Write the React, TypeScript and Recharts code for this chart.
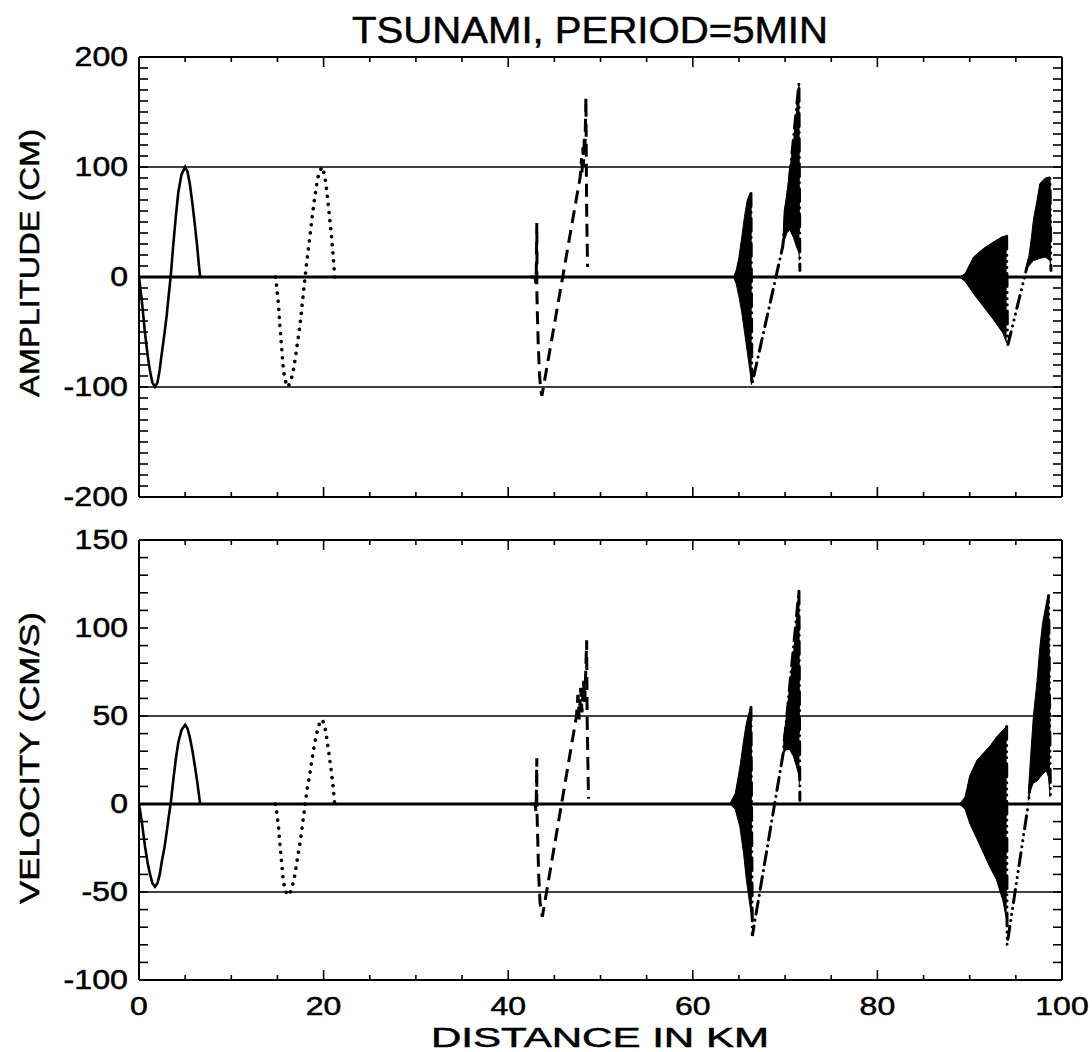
import React from 'react';
import { ComposedChart, Line, Area, XAxis, YAxis, ReferenceLine } from 'recharts';

const FONT = '"Liberation Sans", Arial, Helvetica, sans-serif';

// ---- axis ticks / labels ----
const xMajorTicks = [0, 20, 40, 60, 80, 100];
const xMinorTicks = [0, 5, 10, 15, 20, 25, 30, 35, 40, 45, 50, 55, 60, 65, 70, 75, 80, 85, 90, 95, 100];
const ampTicks = [-200, -190, -180, -170, -160, -150, -140, -130, -120, -110, -100, -90, -80, -70, -60, -50, -40, -30, -20, -10, 0,
  10, 20, 30, 40, 50, 60, 70, 80, 90, 100, 110, 120, 130, 140, 150, 160, 170, 180, 190, 200];
const ampLabels = [-200, -100, 0, 100, 200];
const velTicks = [-100, -90, -80, -70, -60, -50, -40, -30, -20, -10, 0, 10, 20, 30, 40, 50, 60, 70, 80, 90, 100,
  110, 120, 130, 140, 150];
const velLabels = [-100, -50, 0, 50, 100, 150];
const ampRefLines = [-100, 100];
const velRefLines = [-50, 50];

// ---- amplitude (cm) snapshots: [km, value] ----
const ampSolid = [[0, 0], [0.3, -21], [0.65, -51], [0.95, -72], [1.2, -86], [1.45, -96], [1.73, -100], [2.0, -96], [2.25, -84],
  [2.46, -70], [2.75, -52], [3.0, -35], [3.2, -18], [3.45, 2], [3.72, 30], [4.0, 56], [4.26, 77], [4.6, 93], [5.0, 100],
  [5.25, 96], [5.5, 85], [5.8, 66], [6.07, 46], [6.3, 28], [6.5, 10], [6.62, 0]];
const ampDotted = [[14.8, 0], [15.1, -24], [15.3, -48], [15.45, -64], [15.6, -80], [15.8, -93], [16.1, -100], [16.4, -96],
  [16.65, -88], [16.9, -76], [17.1, -64], [17.45, -43], [17.7, -23], [18.0, 0], [18.2, 16], [18.45, 32], [18.7, 50],
  [18.95, 67], [19.25, 84], [19.5, 95], [19.85, 100], [20.1, 93], [20.35, 78], [20.6, 58], [20.85, 38], [21.05, 18], [21.2, 0]];
const ampDashed = [[42.4, 0], [42.9, 0], [43.0, -6], [43.05, 8], [43.1, 49], [43.12, 20], [43.1, -10], [43.15, -30],
  [43.25, -60], [43.4, -90], [43.55, -104], [43.65, -108], [47.8, 91], [47.95, 108], [48.0, 95], [48.1, 118],
  [48.15, 100], [48.25, 128], [48.3, 110], [48.42, 163], [48.45, 120], [48.5, 60], [48.6, 9]];
const ampDashDot = [[66.3, 76], [66.4, -98], [69.75, 28], [71.5, 176], [71.6, 6]];
const ampDashDotBurst1 = [[64.4, 0, 0], [64.7, -6, 6], [65.0, -18, 18], [65.3, -32, 36], [65.6, -50, 55], [65.9, -68, 70],
  [66.2, -86, 76], [66.38, -98, 76]];
const ampDashDotBurst2 = [[69.75, 28, 30], [69.9, 33, 60], [70.2, 40, 76], [70.5, 43, 97], [70.9, 36, 121], [71.25, 27, 152],
  [71.5, 22, 176], [71.55, 15, 40]];
const ampDashDot3 = [[94.0, 37], [94.1, -63], [96.2, 9], [98.7, 91], [98.8, 6]];
const ampDashDot3Burst1 = [[88.9, 0, 0], [89.5, -4, 3], [90.4, -15, 18], [91.5, -27, 26], [92.6, -39, 32], [93.6, -51, 37],
  [94.0, -60, 37]];
const ampDashDot3Burst2 = [[96.2, 9, 9], [96.4, 10, 18], [96.7, 13, 37], [96.9, 15, 52], [97.3, 16, 70], [97.6, 17, 85],
  [98.2, 18, 90], [98.7, 15, 91], [98.8, 8, 40]];

// ---- velocity (cm/s) snapshots ----
const velSolid = [[0, 0], [0.3, -10], [0.65, -24], [0.95, -34], [1.2, -40], [1.45, -45], [1.73, -47], [2.0, -45], [2.25, -40],
  [2.46, -33], [2.75, -25], [3.0, -16], [3.2, -8], [3.45, 1], [3.72, 14], [4.0, 26], [4.26, 35], [4.6, 42], [5.0, 45],
  [5.25, 43], [5.5, 38], [5.8, 30], [6.07, 21], [6.3, 13], [6.5, 5], [6.62, 0]];
const velDotted = [[14.8, 0], [15.1, -12], [15.3, -25], [15.45, -33], [15.6, -42], [15.8, -48], [16.1, -52], [16.4, -50],
  [16.65, -46], [16.9, -40], [17.1, -33], [17.45, -22], [17.7, -12], [18.0, 0], [18.2, 8], [18.45, 15], [18.7, 24],
  [18.95, 32], [19.25, 40], [19.5, 45], [19.85, 48], [20.1, 45], [20.35, 37], [20.6, 28], [20.85, 18], [21.05, 9], [21.2, 0]];
const velDashed = [[42.4, 0], [42.9, 0], [43.0, -4], [43.05, 5], [43.1, 26], [43.1, 0], [43.2, -20], [43.3, -40],
  [43.45, -56], [43.7, -64], [47.4, 50], [47.55, 62], [47.7, 48], [47.85, 66], [48.0, 52], [48.15, 70], [48.3, 58],
  [48.5, 93], [48.55, 50], [48.7, 3]];
const velDashDot = [[66.3, 55], [66.45, -75], [69.8, 29], [71.5, 121], [71.6, 2]];
const velDashDotBurst1 = [[64.0, 0, 0], [64.6, -3, 6], [65.1, -13, 21], [65.5, -28, 36], [65.8, -43, 46], [66.2, -58, 54],
  [66.4, -66, 55]];
const velDashDotBurst2 = [[69.8, 29, 36], [70.2, 31, 52], [70.5, 31, 67], [70.9, 27, 84], [71.25, 21, 105], [71.5, 16, 121],
  [71.55, 10, 40]];
const velDashDot3 = [[94.0, 44], [94.05, -80], [96.35, 0], [98.55, 119], [98.75, 2]];
const velDashDot3Burst1 = [[88.9, 0, 0], [89.5, -3, 4], [90.0, -11, 16], [90.8, -20, 25], [91.5, -28, 29], [92.2, -36, 33],
  [92.9, -43, 38], [93.6, -55, 42], [94.0, -66, 44]];
const velDashDot3Burst2 = [[96.35, 2, 6], [96.6, 8, 27], [96.9, 12, 50], [97.3, 13, 70], [97.6, 15, 89], [97.9, 17, 103],
  [98.3, 19, 114], [98.55, 15, 119], [98.7, 4, 40]];

const pts = (a: number[][]) => a.map(([x, y]) => ({ x, y }));
const rng = (a: number[][]) => a.map(([x, lo, hi]) => ({ x, r: [lo, hi] }));

const DOTTED = '0.1 8';
const DASHED = '13 7';
const DASHDOT = '13 6 0.1 6';
const DASHDOT3 = '13 6 0.1 6 0.1 6 0.1 6';

// width of a numeric label, matching the wide face of the original
const labelLen = (v: number) => {
  const s = String(v);
  return s.replace('-', '').length * 17.8 + (s.startsWith('-') ? 11 : 0);
};

const txt = { fontFamily: FONT, fill: '#000', stroke: '#000', strokeWidth: 0.5 };

const BottomTick = (props: any) => {
  const { x, y, payload, showLabel } = props;
  const v = payload.value;
  const major = xMajorTicks.includes(v);
  return (
    <g>
      <line x1={x} x2={x} y1={y} y2={y - (major ? 10 : 5)} stroke="#000" strokeWidth={1.6} />
      {showLabel && major && (
        <text x={x} y={y + 26} textAnchor="middle" dominantBaseline="central" fontSize={26} {...txt}
          textLength={labelLen(v)} lengthAdjust="spacingAndGlyphs">
          {v}
        </text>
      )}
    </g>
  );
};
const TopTick = (props: any) => {
  const { x, y, payload } = props;
  const major = xMajorTicks.includes(payload.value);
  return <line x1={x} x2={x} y1={y} y2={y + (major ? 10 : 5)} stroke="#000" strokeWidth={1.6} />;
};
const LeftTick = (props: any) => {
  const { x, y, payload, labels } = props;
  const v = payload.value;
  return (
    <g>
      <line x1={x} x2={x + 9} y1={y} y2={y} stroke="#000" strokeWidth={1.6} />
      {labels.includes(v) && (
        <text x={x - 11} y={y} textAnchor="end" dominantBaseline="central" fontSize={27} {...txt}
          textLength={labelLen(v)} lengthAdjust="spacingAndGlyphs">
          {v}
        </text>
      )}
    </g>
  );
};
const RightTick = (props: any) => {
  const { x, y } = props;
  return <line x1={x} x2={x - 9} y1={y} y2={y} stroke="#000" strokeWidth={1.6} />;
};

const axisLine = { stroke: '#000', strokeWidth: 2 };

type PanelProps = {
  height: number;
  margin: { top: number; right: number; bottom: number; left: number };
  domain: [number, number];
  yTicks: number[];
  yLabels: number[];
  refs: number[];
  showXLabels: boolean;
  solid: number[][];
  dotted: number[][];
  dashed: number[][];
  dashDot: number[][];
  dashDotB1: number[][];
  dashDotB2: number[][];
  dd3: number[][];
  dd3B1: number[][];
  dd3B2: number[][];
};

const Panel = (p: PanelProps) => {
  const common = { xAxisId: 'b', yAxisId: 'l', isAnimationActive: false, dot: false, activeDot: false, type: 'linear' as const };
  const burst = { ...common, dataKey: 'r', stroke: '#000', strokeWidth: 1, fill: '#000', fillOpacity: 1 };
  return (
    <ComposedChart width={1092} height={p.height} margin={p.margin}>
      <XAxis xAxisId="b" type="number" dataKey="x" domain={[0, 100]} allowDataOverflow ticks={xMinorTicks} interval={0}
        height={1} orientation="bottom" tickLine={false} tickSize={0} tickMargin={0} axisLine={axisLine}
        tick={(t: any) => <BottomTick {...t} showLabel={p.showXLabels} />} />
      <XAxis xAxisId="t" type="number" dataKey="x" domain={[0, 100]} allowDataOverflow ticks={xMinorTicks} interval={0}
        height={1} orientation="top" tickLine={false} tickSize={0} tickMargin={0} axisLine={axisLine}
        tick={(t: any) => <TopTick {...t} />} />
      <YAxis yAxisId="l" type="number" domain={p.domain} allowDataOverflow ticks={p.yTicks} interval={0} width={1}
        orientation="left" tickLine={false} tickSize={0} tickMargin={0} axisLine={axisLine}
        tick={(t: any) => <LeftTick {...t} labels={p.yLabels} />} />
      <YAxis yAxisId="r" type="number" domain={p.domain} allowDataOverflow ticks={p.yTicks} interval={0} width={1}
        orientation="right" tickLine={false} tickSize={0} tickMargin={0} axisLine={axisLine}
        tick={(t: any) => <RightTick {...t} />} />
      {p.refs.map((r) => (
        <ReferenceLine key={r} xAxisId="b" yAxisId="l" y={r} stroke="#000" strokeWidth={1.6} />
      ))}
      <ReferenceLine xAxisId="b" yAxisId="l" y={0} stroke="#000" strokeWidth={3} />
      <Line {...common} data={pts(p.solid)} dataKey="y" stroke="#000" strokeWidth={2.6} />
      <Line {...common} data={pts(p.dotted)} dataKey="y" stroke="#000" strokeWidth={3.6} strokeDasharray={DOTTED} strokeLinecap="round" />
      <Line {...common} data={pts(p.dashed)} dataKey="y" stroke="#000" strokeWidth={3} strokeDasharray={DASHED} />
      <Area {...burst} data={rng(p.dashDotB1)} />
      <Area {...burst} data={rng(p.dashDotB2)} />
      <Line {...common} data={pts(p.dashDot)} dataKey="y" stroke="#000" strokeWidth={3} strokeDasharray={DASHDOT} strokeLinecap="round" />
      <Area {...burst} data={rng(p.dd3B1)} />
      <Area {...burst} data={rng(p.dd3B2)} />
      <Line {...common} data={pts(p.dd3)} dataKey="y" stroke="#000" strokeWidth={3} strokeDasharray={DASHDOT3} strokeLinecap="round" />
    </ComposedChart>
  );
};

export default function App() {
  return (
    <div style={{ position: 'absolute', left: 0, top: 0, width: 1092, height: 1052, background: '#fff', fontFamily: FONT }}>
      <div style={{ position: 'absolute', left: 0, top: 0 }}>
        <Panel height={520} margin={{ top: 56, right: 29, bottom: 22, left: 138 }} domain={[-200, 200]}
          yTicks={ampTicks} yLabels={ampLabels} refs={ampRefLines} showXLabels={false}
          solid={ampSolid} dotted={ampDotted} dashed={ampDashed} dashDot={ampDashDot}
          dashDotB1={ampDashDotBurst1} dashDotB2={ampDashDotBurst2}
          dd3={ampDashDot3} dd3B1={ampDashDot3Burst1} dd3B2={ampDashDot3Burst2} />
      </div>
      <div style={{ position: 'absolute', left: 0, top: 520 }}>
        <Panel height={532} margin={{ top: 19, right: 29, bottom: 71, left: 138 }} domain={[-100, 150]}
          yTicks={velTicks} yLabels={velLabels} refs={velRefLines} showXLabels={true}
          solid={velSolid} dotted={velDotted} dashed={velDashed} dashDot={velDashDot}
          dashDotB1={velDashDotBurst1} dashDotB2={velDashDotBurst2}
          dd3={velDashDot3} dd3B1={velDashDot3Burst1} dd3B2={velDashDot3Burst2} />
      </div>
      <svg width={1092} height={1052} style={{ position: 'absolute', left: 0, top: 0, pointerEvents: 'none' }}>
        <text x={590} y={43} textAnchor="middle" fontSize={36} {...txt}
          textLength={476} lengthAdjust="spacingAndGlyphs">TSUNAMI, PERIOD=5MIN</text>
        <text transform="translate(29,263) rotate(-90)" textAnchor="middle" dominantBaseline="central" fontSize={28}
          {...txt} textLength={268} lengthAdjust="spacingAndGlyphs">AMPLITUDE (CM)</text>
        <text transform="translate(29,758) rotate(-90)" textAnchor="middle" dominantBaseline="central" fontSize={28}
          {...txt} textLength={292} lengthAdjust="spacingAndGlyphs">VELOCITY (CM/S)</text>
        <text x={600} y={1038} textAnchor="middle" dominantBaseline="central" fontSize={27} {...txt}
          textLength={338} lengthAdjust="spacingAndGlyphs">
          DISTANCE IN KM
        </text>
      </svg>
    </div>
  );
}
